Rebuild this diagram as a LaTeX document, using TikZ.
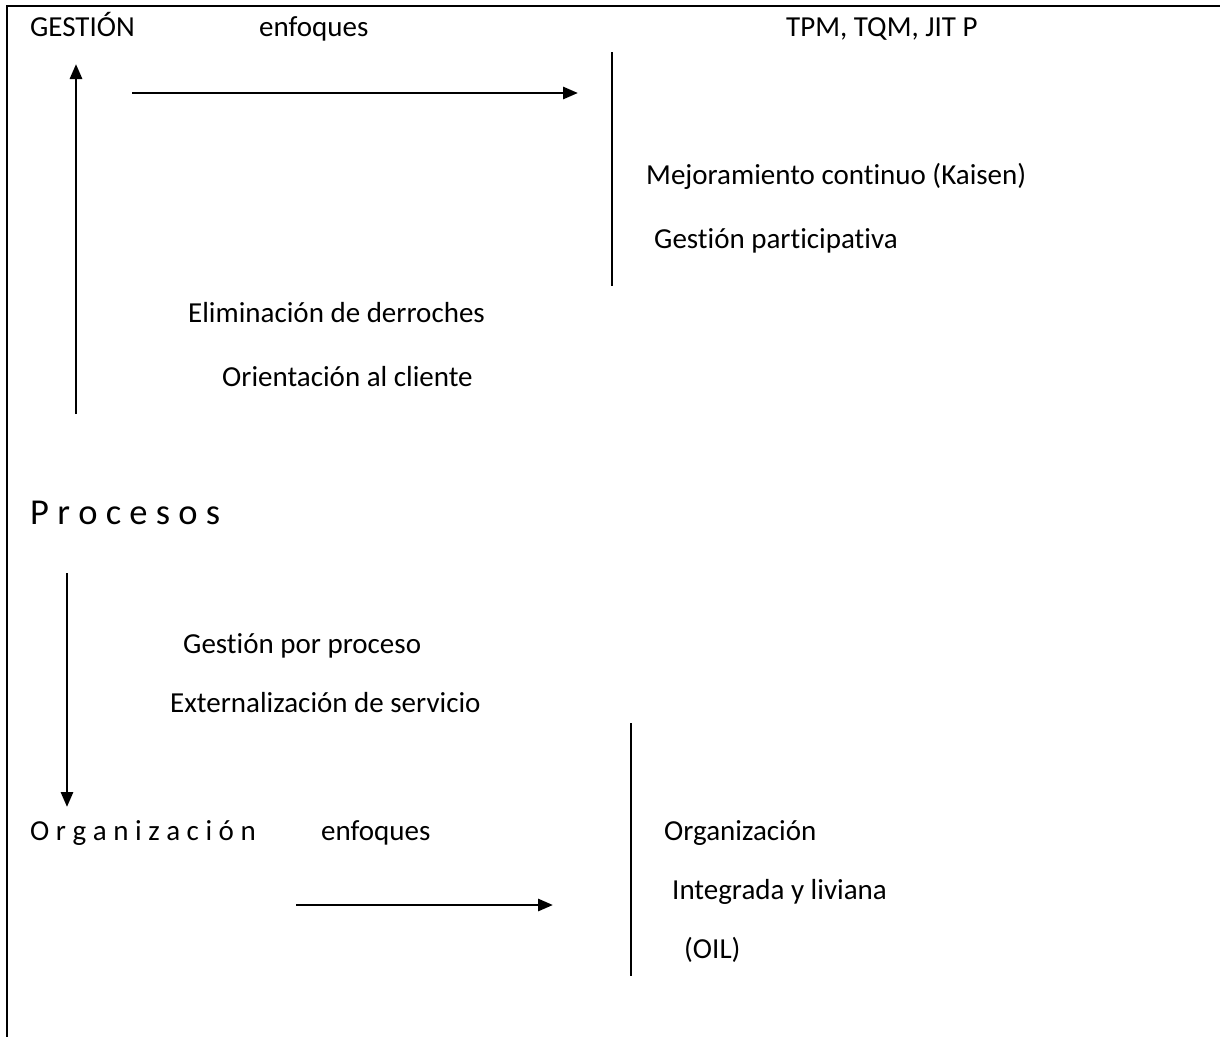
\documentclass[tikz,border=0pt]{standalone}
\usepackage{fontspec}
\setmainfont{Carlito}[RawFeature={-liga}]
\usetikzlibrary{arrows.meta}
\begin{document}
\begin{tikzpicture}[x=1pt,y=-1pt,
  lbl/.style={anchor=base west,inner sep=0pt,font=\fontsize{29}{34}\selectfont},
  big/.style={anchor=base west,inner sep=0pt,font=\fontsize{36.5}{42}\selectfont},
  flow/.style={line width=2.9pt,-{Triangle[length=15pt,width=12pt]}},
  rule/.style={line width=1.9pt}]
\useasboundingbox (0,0) rectangle (1220,1036);
% frame: only the top and left edges fall inside the page
\draw[line width=2.2pt] (7,1040) -- (7,6) -- (1225,6);

% upper block
\node[lbl] (gestion) at (30,36) {GESTIÓN};
\node[lbl] (enf1) at (259,36) {enfoques};
\node[lbl] (tpm) at (786,36) {TPM, TQM, JIT P};
\node[lbl] (mejora) at (646,184) {Mejoramiento continuo (Kaisen)};
\node[lbl] (gpart) at (654,248) {Gestión participativa};
\node[lbl] (elim) at (188,322) {Eliminación de derroches};
\node[lbl] (orient) at (222,386) {Orientación al cliente};

\coordinate (a1s) at (132,93);
\coordinate (a1e) at (578,93);
\draw[flow] (a1s) -- (a1e);
\coordinate (s1t) at (612,52);
\coordinate (s1b) at (612,286);
\draw[rule] (s1t) -- (s1b);
\coordinate (upS) at (76,414);
\coordinate (upE) at (76,64);
\draw[flow] (upS) -- (upE);

% middle
\node[big] (proc) at (30,524) {P r o c e s o s};
\node[lbl] (gproc) at (183,653) {Gestión por proceso};
\node[lbl] (ext) at (170,712) {Externalización de servicio};
\coordinate (dnS) at (67,573);
\coordinate (dnE) at (67,807);
\draw[flow] (dnS) -- (dnE);

% lower block
\node[lbl] (org) at (30,840) {O r g a n i z a c i ó n};
\node[lbl] (enf2) at (321,840) {enfoques};
\node[lbl] (org2) at (664,840) {Organización};
\node[lbl] (integ) at (672,899) {Integrada y liviana};
\node[lbl] (oil) at (684,958) {(OIL)};
\coordinate (a2s) at (296,905);
\coordinate (a2e) at (553,905);
\draw[flow] (a2s) -- (a2e);
\coordinate (s2t) at (631,723);
\coordinate (s2b) at (631,976);
\draw[rule] (s2t) -- (s2b);
\end{tikzpicture}
\end{document}
